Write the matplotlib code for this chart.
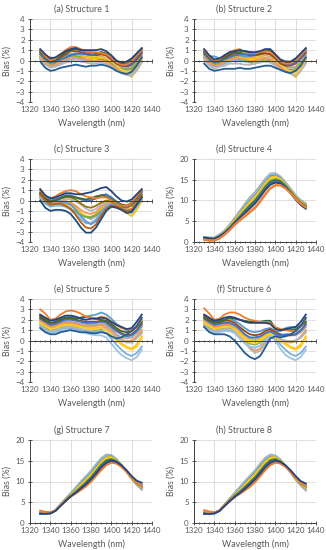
import matplotlib.pyplot as plt
from matplotlib.ticker import MultipleLocator

plt.rcParams['font.family'] = ['Lato', 'DejaVu Sans']

# x values shared by every series (nm)
wavelength = [1330, 1335, 1340, 1345, 1350, 1355, 1360, 1365, 1370, 1375,
              1380, 1385, 1390, 1395, 1400, 1405, 1410, 1415, 1420, 1425, 1430]

titles = ['(a) Structure 1', '(b) Structure 2', '(c) Structure 3',
          '(d) Structure 4', '(e) Structure 5', '(f) Structure 6',
          '(g) Structure 7', '(h) Structure 8']

# Structure 1
bias1 = [
    [0.6, 0.0, -0.3, -0.2, 0.1, 0.4, 0.6, 0.6, 0.5, 0.4, 0.3, 0.3, 0.4, 0.3, 0.0, -0.4, -0.7, -0.8, -0.6, -0.1, 0.5],
    [0.5, 0.0, -0.4, -0.3, 0.0, 0.3, 0.5, 0.5, 0.4, 0.3, 0.2, 0.2, 0.2, 0.1, -0.2, -0.7, -1.0, -1.2, -1.6, -0.9, 0.0],
    [0.4, -0.1, -0.4, -0.3, 0.0, 0.2, 0.4, 0.4, 0.3, 0.1, 0.0, 0.0, 0.1, 0.0, -0.3, -0.6, -0.8, -0.9, -0.8, -0.3, 0.3],
    [0.2, -0.3, -0.6, -0.5, -0.3, 0.0, 0.1, 0.2, 0.1, 0.0, -0.1, -0.1, 0.0, -0.1, -0.4, -0.8, -1.1, -1.3, -1.3, -0.7, -0.1],
    [0.3, -0.2, -0.5, -0.4, -0.1, 0.1, 0.3, 0.3, 0.2, 0.1, 0.0, -0.1, 0.0, -0.1, -0.4, -0.8, -1.0, -1.1, -1.0, -0.5, 0.2],
    [0.1, -0.4, -0.7, -0.6, -0.4, -0.2, -0.1, 0.0, -0.1, -0.2, -0.3, -0.3, -0.2, -0.3, -0.6, -0.9, -1.2, -1.4, -1.5, -1.0, -0.2],
    [0.5, 0.1, -0.2, -0.1, 0.2, 0.4, 0.6, 0.7, 0.6, 0.5, 0.4, 0.4, 0.5, 0.4, 0.0, -0.5, -0.9, -1.1, -1.2, -0.6, 0.2],
    [0.7, 0.3, 0.3, 0.2, 0.3, 0.5, 0.6, 0.7, 0.6, 0.6, 0.5, 0.6, 0.7, 0.5, 0.1, -0.3, -0.5, -0.5, -0.3, 0.2, 0.8],
    [0.8, 0.2, -0.2, -0.1, 0.3, 0.6, 0.9, 0.9, 0.8, 0.7, 0.6, 0.5, 0.6, 0.5, 0.1, -0.3, -0.5, -0.6, -0.4, 0.1, 0.7],
    [0.6, 0.1, -0.2, -0.1, 0.1, 0.3, 0.5, 0.6, 0.7, 0.6, 0.5, 0.6, 0.8, 0.6, 0.2, -0.2, -0.4, -0.5, -0.3, 0.3, 0.9],
    [0.9, 0.3, -0.1, 0.0, 0.4, 0.8, 1.0, 1.1, 1.0, 0.9, 0.8, 0.7, 0.8, 0.7, 0.3, -0.1, -0.3, -0.3, 0.0, 0.6, 1.1],
    [1.0, 0.4, 0.0, 0.2, 0.6, 1.0, 1.3, 1.3, 1.1, 0.9, 0.8, 0.8, 0.7, 0.6, 0.3, -0.2, -0.4, -0.4, -0.1, 0.5, 1.0],
    [-0.1, -0.7, -1.0, -0.9, -0.7, -0.6, -0.5, -0.4, -0.5, -0.6, -0.5, -0.5, -0.4, -0.5, -0.7, -1.0, -1.2, -1.3, -1.1, -0.5, 0.3],
    [1.1, 0.6, 0.2, 0.3, 0.6, 0.9, 1.1, 1.2, 1.0, 1.0, 1.0, 1.0, 1.1, 0.9, 0.5, 0.0, -0.2, -0.1, 0.2, 0.7, 1.2],
]
colors1 = ['#A5A5A5', '#FFC000', '#70AD47', '#7CAFDD', '#F1975A', '#B7B7B7', '#FFCD33',
           '#5B9BD5', '#9E480E', '#4472C4', '#43682B', '#ED7D31', '#255E91', '#264478']

# Structure 2
bias2 = [
    [0.6, 0.0, -0.3, -0.2, 0.1, 0.3, 0.4, 0.4, 0.3, 0.3, 0.3, 0.4, 0.5, 0.4, 0.0, -0.4, -0.6, -0.7, -0.6, -0.1, 0.5],
    [0.5, -0.1, -0.4, -0.3, 0.0, 0.2, 0.3, 0.3, 0.2, 0.2, 0.2, 0.3, 0.3, 0.2, -0.2, -0.7, -1.0, -1.2, -1.6, -1.0, 0.0],
    [0.4, -0.1, -0.4, -0.3, -0.1, 0.1, 0.2, 0.1, 0.0, -0.2, -0.3, -0.1, 0.0, 0.0, -0.3, -0.6, -0.8, -0.9, -0.8, -0.3, 0.3],
    [0.2, -0.3, -0.6, -0.5, -0.3, -0.1, 0.0, 0.0, -0.1, -0.1, 0.0, 0.1, 0.2, 0.1, -0.3, -0.7, -1.0, -1.2, -1.3, -0.7, -0.1],
    [0.3, -0.2, -0.5, -0.4, -0.1, 0.1, 0.2, 0.2, 0.1, 0.0, 0.0, 0.1, 0.2, 0.1, -0.3, -0.7, -0.9, -1.0, -0.9, -0.4, 0.2],
    [0.0, -0.5, -0.8, -0.6, -0.5, -0.3, -0.3, -0.3, -0.4, -0.4, -0.3, -0.2, -0.1, -0.2, -0.5, -0.9, -1.1, -1.3, -1.5, -1.0, -0.3],
    [0.5, 0.1, -0.2, -0.1, 0.1, 0.3, 0.5, 0.5, 0.4, 0.4, 0.4, 0.5, 0.6, 0.5, 0.1, -0.4, -0.8, -1.1, -1.3, -0.7, 0.1],
    [0.7, 0.4, 0.4, 0.2, 0.2, 0.4, 0.5, 0.5, 0.4, 0.4, 0.5, 0.6, 0.7, 0.6, 0.2, -0.2, -0.4, -0.4, -0.2, 0.3, 0.8],
    [0.8, 0.2, -0.2, -0.1, 0.2, 0.5, 0.7, 0.7, 0.6, 0.5, 0.5, 0.6, 0.7, 0.6, 0.2, -0.3, -0.5, -0.5, -0.3, 0.2, 0.7],
    [0.6, 0.1, -0.2, -0.1, 0.1, 0.3, 0.5, 0.6, 0.6, 0.6, 0.6, 0.8, 1.0, 0.9, 0.4, -0.1, -0.3, -0.4, -0.2, 0.3, 0.9],
    [0.9, 0.3, -0.1, 0.0, 0.3, 0.6, 0.8, 0.8, 0.9, 0.8, 0.7, 0.7, 0.9, 1.0, 0.5, 0.0, -0.2, -0.2, 0.1, 0.6, 1.1],
    [1.0, 0.4, 0.0, 0.1, 0.5, 0.8, 1.0, 1.1, 0.8, 0.7, 0.7, 0.8, 0.9, 0.8, 0.4, -0.1, -0.3, -0.3, 0.0, 0.5, 1.0],
    [-0.3, -0.8, -1.0, -0.9, -0.8, -0.8, -0.8, -0.7, -0.8, -0.8, -0.7, -0.6, -0.5, -0.5, -0.7, -0.9, -1.1, -1.2, -1.0, -0.5, 0.3],
    [1.1, 0.5, 0.1, 0.2, 0.5, 0.8, 0.9, 1.0, 0.9, 0.8, 0.8, 0.9, 1.1, 1.1, 0.6, 0.1, -0.1, -0.1, 0.2, 0.7, 1.2],
]
colors2 = colors1

# Structure 3
bias3 = [
    [0.7, 0.1, -0.2, -0.1, 0.0, -0.1, -0.3, -0.7, -1.2, -1.6, -1.8, -1.5, -1.0, -0.4, -0.2, -0.4, -0.7, -0.9, -0.8, -0.2, 0.5],
    [0.4, -0.1, -0.4, -0.3, -0.2, -0.3, -0.5, -0.8, -1.2, -1.5, -1.6, -1.3, -0.8, -0.4, -0.3, -0.6, -0.9, -1.2, -1.5, -0.9, 0.0],
    [0.3, -0.2, -0.5, -0.4, -0.3, -0.5, -0.8, -1.1, -1.4, -1.6, -1.6, -1.4, -1.0, -0.6, -0.4, -0.6, -0.8, -1.0, -0.9, -0.4, 0.3],
    [0.2, -0.3, -0.6, -0.5, -0.5, -0.6, -0.9, -1.3, -1.8, -2.2, -2.2, -1.8, -1.1, -0.5, -0.3, -0.5, -0.8, -1.1, -1.2, -0.6, 0.1],
    [0.5, 0.0, -0.3, -0.2, -0.1, -0.1, -0.2, -0.5, -0.9, -1.2, -1.3, -1.1, -0.6, -0.2, -0.2, -0.4, -0.7, -0.9, -0.8, -0.3, 0.4],
    [0.4, 0.0, -0.3, -0.2, 0.0, 0.1, 0.1, -0.1, -0.4, -0.8, -1.0, -0.8, -0.4, -0.1, -0.1, -0.4, -0.7, -0.9, -0.9, -0.4, 0.3],
    [0.6, 0.1, -0.2, 0.0, 0.2, 0.3, 0.3, 0.1, -0.3, -0.6, -0.7, -0.5, -0.2, 0.0, -0.1, -0.4, -0.6, -0.7, -0.5, 0.0, 0.6],
    [0.5, 0.3, 0.3, 0.1, -0.1, -0.2, -0.4, -0.9, -1.5, -2.0, -2.3, -2.0, -1.3, -0.7, -0.4, -0.5, -0.8, -1.0, -1.0, -0.4, 0.3],
    [0.7, 0.2, 0.0, 0.1, 0.3, 0.5, 0.5, 0.3, 0.1, 0.0, 0.0, 0.2, 0.5, 0.6, 0.3, -0.1, -0.4, -0.5, -0.3, 0.2, 0.8],
    [0.8, 0.2, -0.1, 0.0, 0.2, 0.4, 0.4, 0.3, 0.2, 0.1, 0.2, 0.4, 0.5, 0.4, 0.1, -0.2, -0.4, -0.5, -0.2, 0.3, 0.9],
    [0.6, 0.0, -0.4, -0.3, -0.3, -0.5, -0.8, -1.4, -2.1, -2.6, -2.7, -2.3, -1.5, -0.8, -0.5, -0.6, -0.8, -1.0, -0.9, -0.3, 0.4],
    [1.0, 0.4, 0.2, 0.4, 0.7, 0.9, 1.0, 0.9, 0.6, 0.4, 0.3, 0.2, 0.3, 0.3, 0.0, -0.3, -0.5, -0.5, -0.2, 0.4, 1.0],
    [0.0, -0.7, -1.0, -0.9, -0.9, -1.0, -1.3, -1.9, -2.6, -3.1, -3.1, -2.6, -1.8, -1.0, -0.6, -0.7, -0.9, -1.2, -1.1, -0.4, 0.3],
    [1.1, 0.5, 0.2, 0.3, 0.5, 0.7, 0.7, 0.6, 0.6, 0.7, 0.8, 1.0, 1.2, 1.3, 0.9, 0.4, 0.0, -0.1, 0.1, 0.6, 1.1],
]
colors3 = ['#A5A5A5', '#FFC000', '#70AD47', '#7CAFDD', '#F1975A', '#B7B7B7', '#997300',
           '#5B9BD5', '#4472C4', '#43682B', '#C55A11', '#ED7D31', '#1F4E79', '#264478']

# Structure 4
bias4 = [
    [1.2, 1.1, 1.1, 1.8, 2.8, 4.2, 5.8, 7.5, 9.2, 10.8, 12.0, 13.6, 15.2, 16.5, 16.6, 15.8, 14.4, 12.9, 11.3, 10.1, 9.3],
    [1.1, 1.0, 1.0, 1.7, 2.7, 4.0, 5.6, 7.3, 8.9, 10.4, 11.6, 13.2, 14.9, 16.3, 16.4, 15.6, 14.2, 12.7, 11.1, 9.9, 9.1],
    [1.0, 0.9, 0.9, 1.6, 2.6, 3.9, 5.4, 7.0, 8.6, 10.0, 11.2, 12.8, 14.5, 15.9, 16.1, 15.4, 14.0, 12.5, 11.0, 9.8, 9.0],
    [1.0, 0.9, 0.8, 1.5, 2.5, 3.8, 5.3, 6.8, 8.3, 9.7, 10.9, 12.5, 14.2, 15.5, 15.8, 15.2, 13.9, 12.4, 10.9, 9.7, 8.9],
    [0.9, 0.8, 0.7, 1.4, 2.4, 3.7, 5.1, 6.6, 8.0, 9.4, 10.6, 12.2, 13.9, 15.2, 15.5, 15.0, 13.8, 12.3, 10.8, 9.6, 8.8],
    [0.9, 0.8, 0.7, 1.3, 2.3, 3.5, 4.9, 6.3, 7.7, 9.0, 10.2, 11.8, 13.5, 14.8, 15.2, 14.8, 13.7, 12.2, 10.7, 9.5, 8.7],
    [0.9, 0.7, 0.6, 1.2, 2.2, 3.4, 4.8, 6.1, 7.4, 8.7, 9.9, 11.4, 13.1, 14.4, 14.9, 14.6, 13.5, 12.1, 10.6, 9.4, 8.6],
    [1.0, 0.8, 0.7, 1.3, 2.2, 3.3, 4.6, 5.9, 7.1, 8.4, 9.6, 11.1, 12.8, 14.1, 14.6, 14.3, 13.3, 11.9, 10.5, 9.2, 8.4],
    [1.1, 0.9, 0.8, 1.4, 2.2, 3.2, 4.5, 5.7, 6.9, 8.1, 9.3, 10.8, 12.5, 13.8, 14.3, 14.1, 13.1, 11.7, 10.2, 8.9, 8.0],
    [0.6, 0.4, 0.4, 0.9, 1.8, 2.9, 4.2, 5.3, 6.4, 7.5, 8.5, 10.0, 11.7, 13.1, 13.8, 13.7, 12.9, 11.7, 10.4, 9.2, 8.4],
    [0.5, 0.3, 0.3, 0.8, 1.7, 2.8, 4.1, 5.1, 6.1, 7.1, 8.1, 9.6, 11.3, 12.8, 13.6, 13.6, 12.9, 11.8, 10.5, 9.3, 8.3],
]
colors4 = ['#A5A5A5', '#9DC3E6', '#5B9BD5', '#FFC000', '#FFCD33', '#70AD47',
           '#43682B', '#4472C4', '#264478', '#F1975A', '#ED7D31']

# Structure 5
bias5 = [
    [2.0, 1.7, 1.4, 1.5, 1.7, 1.8, 1.8, 1.7, 1.6, 1.6, 1.5, 1.5, 1.6, 1.5, 1.1, 0.6, 0.3, 0.2, 0.3, 0.7, 1.3],
    [1.8, 1.5, 1.2, 1.3, 1.5, 1.6, 1.6, 1.5, 1.4, 1.3, 1.2, 1.2, 1.3, 1.2, 0.8, 0.2, -0.3, -0.6, -0.8, -0.4, 0.4],
    [1.6, 1.2, 1.0, 1.1, 1.3, 1.4, 1.4, 1.3, 1.1, 1.0, 0.9, 1.0, 1.1, 1.0, 0.6, 0.2, 0.0, -0.1, 0.0, 0.3, 0.8],
    [1.4, 1.0, 0.8, 0.9, 1.1, 1.2, 1.2, 1.1, 1.0, 0.9, 0.8, 0.8, 0.9, 0.7, 0.2, -0.4, -0.9, -1.3, -1.5, -1.2, -0.6],
    [1.9, 1.6, 1.3, 1.4, 1.6, 1.7, 1.7, 1.6, 1.5, 1.4, 1.4, 1.4, 1.5, 1.3, 0.9, 0.4, 0.1, -0.1, 0.0, 0.4, 1.0],
    [1.5, 1.1, 0.9, 1.0, 1.2, 1.3, 1.3, 1.2, 1.1, 1.0, 1.0, 1.1, 1.2, 1.1, 0.7, 0.3, 0.0, -0.2, -0.2, 0.2, 0.7],
    [1.7, 1.4, 1.1, 1.2, 1.4, 1.5, 1.5, 1.4, 1.3, 1.2, 1.1, 1.1, 1.2, 1.0, 0.6, 0.0, -0.4, -0.7, -0.9, -0.6, 0.2],
    [2.3, 2.1, 2.0, 2.0, 2.1, 2.2, 2.3, 2.2, 2.2, 2.3, 2.4, 2.5, 2.7, 2.5, 2.1, 1.6, 1.3, 1.0, 1.0, 1.3, 1.8],
    [2.4, 2.0, 1.7, 1.7, 1.9, 2.1, 2.1, 2.0, 1.9, 1.8, 1.8, 1.8, 1.9, 1.8, 1.4, 1.0, 0.7, 0.5, 0.6, 1.0, 1.6],
    [2.1, 1.8, 1.5, 1.6, 1.8, 2.0, 2.0, 1.9, 1.8, 1.7, 1.7, 1.7, 1.8, 1.7, 1.3, 0.9, 0.6, 0.4, 0.5, 0.9, 1.5],
    [2.2, 1.9, 1.7, 1.8, 2.0, 2.2, 2.2, 2.1, 2.2, 2.3, 2.2, 2.1, 2.0, 1.9, 1.6, 1.2, 0.9, 0.8, 0.9, 1.3, 1.8],
    [1.3, 0.9, 0.7, 0.8, 0.9, 1.0, 1.0, 0.9, 0.8, 0.7, 0.6, 0.5, 0.5, 0.3, -0.3, -0.9, -1.4, -1.7, -1.9, -1.6, -0.9],
    [3.0, 2.6, 2.0, 2.1, 2.5, 2.8, 2.9, 2.8, 2.6, 2.3, 2.2, 2.1, 2.3, 2.2, 1.8, 1.5, 1.2, 1.1, 1.0, 1.4, 2.0],
    [1.2, 0.8, 0.6, 0.6, 0.8, 0.9, 1.0, 0.9, 0.8, 0.8, 0.7, 0.7, 0.8, 0.7, 0.4, 0.2, 0.3, 0.6, 0.9, 1.4, 2.2],
    [2.5, 2.2, 1.9, 2.0, 2.2, 2.4, 2.4, 2.3, 2.1, 2.0, 2.1, 2.1, 2.2, 2.1, 1.8, 1.5, 1.3, 1.1, 1.2, 1.8, 2.5],
]
colors5 = ['#A5A5A5', '#FFC000', '#70AD47', '#7CAFDD', '#F1975A', '#B7B7B7', '#FFCD33',
           '#5B9BD5', '#9E480E', '#4472C4', '#43682B', '#9DC3E6', '#ED7D31', '#255E91', '#264478']

# Structure 6
bias6 = [
    [2.0, 1.7, 1.4, 1.5, 1.6, 1.6, 1.4, 1.0, 0.5, 0.2, 0.1, 0.3, 0.6, 0.8, 0.5, 0.4, 0.5, 0.5, 0.5, 0.8, 1.3],
    [1.8, 1.5, 1.2, 1.3, 1.4, 1.4, 1.2, 0.8, 0.3, 0.0, -0.1, 0.1, 0.5, 0.7, 0.4, 0.1, -0.3, -0.6, -0.8, -0.4, 0.4],
    [1.6, 1.2, 1.0, 1.1, 1.2, 1.2, 1.0, 0.5, 0.0, -0.3, -0.4, -0.2, 0.2, 0.5, 0.3, 0.1, -0.1, -0.1, 0.0, 0.3, 0.8],
    [1.4, 1.0, 0.8, 0.9, 1.0, 1.0, 0.8, 0.3, -0.2, -0.6, -0.7, -0.5, 0.0, 0.4, 0.2, -0.4, -0.9, -1.3, -1.5, -1.2, -0.6],
    [1.9, 1.6, 1.3, 1.4, 1.5, 1.5, 1.2, 0.6, -0.1, -0.7, -1.0, -0.8, -0.2, 0.4, 0.3, 0.1, -0.1, -0.2, -0.1, 0.4, 1.0],
    [1.5, 1.1, 0.9, 1.0, 1.1, 1.1, 0.9, 0.4, -0.2, -0.8, -1.2, -1.0, -0.4, 0.3, 0.3, 0.1, 0.0, -0.1, 0.0, 0.3, 0.8],
    [1.7, 1.4, 1.1, 1.2, 1.3, 1.3, 1.1, 0.6, 0.1, -0.2, -0.3, -0.1, 0.3, 0.6, 0.3, -0.1, -0.4, -0.7, -0.9, -0.6, 0.2],
    [2.3, 2.0, 1.8, 1.9, 2.0, 2.1, 1.9, 1.6, 1.2, 0.9, 0.8, 0.9, 1.1, 1.2, 0.9, 0.9, 1.2, 1.3, 1.3, 1.5, 1.8],
    [2.4, 2.0, 1.7, 1.7, 1.9, 1.9, 1.7, 1.3, 0.9, 0.6, 0.5, 0.6, 0.9, 1.1, 0.8, 0.6, 0.5, 0.5, 0.6, 1.0, 1.6],
    [2.1, 1.8, 1.5, 1.6, 1.7, 1.7, 1.5, 1.1, 0.6, 0.3, 0.3, 0.4, 0.7, 0.9, 0.6, 0.5, 0.6, 0.6, 0.6, 1.0, 1.5],
    [2.2, 1.9, 1.7, 1.8, 2.0, 2.2, 2.1, 2.0, 1.9, 1.8, 1.8, 1.8, 1.9, 1.9, 1.2, 1.0, 1.0, 1.0, 1.1, 1.4, 1.8],
    [1.3, 0.9, 0.7, 0.8, 0.9, 0.9, 0.7, 0.2, -0.3, -0.6, -0.7, -0.5, 0.0, 0.4, 0.0, -0.8, -1.4, -1.7, -1.9, -1.6, -0.9],
    [3.1, 2.6, 2.0, 2.1, 2.5, 2.7, 2.7, 2.5, 2.2, 2.0, 1.9, 1.8, 1.8, 1.7, 1.3, 1.1, 1.0, 0.9, 0.9, 1.4, 2.1],
    [1.3, 0.8, 0.6, 0.6, 0.6, 0.4, 0.0, -0.6, -1.2, -1.6, -1.8, -1.5, -0.7, 0.2, 0.4, 0.3, 0.4, 0.6, 0.9, 1.4, 2.2],
    [2.5, 2.2, 1.9, 2.0, 2.2, 2.3, 2.2, 2.0, 1.8, 1.7, 1.7, 1.7, 1.7, 1.6, 1.1, 1.0, 1.1, 1.2, 1.3, 1.8, 2.5],
]
colors6 = colors5

# Structure 7
bias7 = [
    [2.3, 2.4, 2.4, 3.1, 4.6, 5.9, 7.2, 8.6, 10.0, 11.3, 12.6, 14.2, 15.6, 16.5, 16.4, 15.4, 13.9, 12.3, 10.6, 9.2, 8.0],
    [2.3, 2.4, 2.4, 3.1, 4.5, 5.8, 7.0, 8.4, 9.8, 11.1, 12.3, 13.9, 15.3, 16.3, 16.3, 15.4, 13.9, 12.3, 10.6, 9.2, 8.1],
    [2.2, 2.3, 2.3, 3.0, 4.4, 5.7, 6.9, 8.2, 9.6, 10.8, 12.0, 13.6, 15.0, 16.0, 16.1, 15.3, 13.9, 12.4, 10.7, 9.3, 8.3],
    [2.4, 2.5, 2.4, 3.0, 4.4, 5.6, 6.8, 8.0, 9.3, 10.5, 11.7, 13.2, 14.7, 15.8, 15.9, 15.2, 13.9, 12.4, 10.7, 9.4, 8.5],
    [2.5, 2.5, 2.5, 3.0, 4.3, 5.5, 6.7, 7.8, 9.0, 10.2, 11.4, 12.9, 14.4, 15.5, 15.7, 15.1, 13.9, 12.4, 10.8, 9.4, 8.6],
    [2.6, 2.6, 2.5, 3.0, 4.3, 5.4, 6.6, 7.6, 8.7, 9.9, 11.1, 12.6, 14.1, 15.2, 15.5, 15.0, 13.9, 12.5, 10.9, 9.5, 8.7],
    [2.4, 2.4, 2.4, 3.0, 4.2, 5.4, 6.5, 7.5, 8.6, 9.7, 10.9, 12.4, 13.9, 15.0, 15.3, 14.9, 13.9, 12.5, 11.0, 9.6, 8.9],
    [2.3, 2.3, 2.3, 2.9, 4.2, 5.3, 6.5, 7.4, 8.4, 9.5, 10.7, 12.1, 13.6, 14.7, 15.1, 14.8, 13.9, 12.6, 11.1, 9.8, 9.2],
    [2.8, 2.6, 2.5, 3.0, 4.2, 5.3, 6.4, 7.3, 8.2, 9.1, 10.2, 11.6, 13.0, 14.2, 14.6, 14.4, 13.6, 12.4, 11.0, 9.8, 9.0],
    [3.0, 2.7, 2.6, 3.0, 4.2, 5.3, 6.3, 7.1, 7.9, 8.8, 9.9, 11.3, 12.7, 13.9, 14.5, 14.3, 13.5, 12.3, 10.9, 9.7, 8.8],
    [2.2, 2.2, 2.3, 2.9, 4.1, 5.3, 6.4, 7.3, 8.3, 9.3, 10.5, 11.9, 13.4, 14.5, 15.0, 14.7, 13.9, 12.7, 11.3, 10.2, 9.7],
]
colors7 = ['#A5A5A5', '#9DC3E6', '#5B9BD5', '#FFC000', '#FFCD33', '#70AD47',
           '#43682B', '#4472C4', '#F1975A', '#ED7D31', '#264478']

# Structure 8
bias8 = [
    [2.3, 2.4, 2.4, 3.0, 4.5, 5.9, 7.3, 8.7, 10.1, 11.4, 12.7, 14.3, 15.7, 16.5, 16.3, 15.3, 13.8, 12.1, 10.4, 9.0, 7.8],
    [2.3, 2.4, 2.4, 3.0, 4.4, 5.8, 7.1, 8.5, 9.9, 11.2, 12.4, 14.0, 15.4, 16.3, 16.2, 15.3, 13.8, 12.2, 10.5, 9.1, 7.9],
    [2.2, 2.3, 2.3, 3.0, 4.4, 5.7, 6.9, 8.2, 9.6, 10.9, 12.1, 13.7, 15.1, 16.0, 16.0, 15.2, 13.8, 12.3, 10.6, 9.2, 8.2],
    [2.4, 2.5, 2.4, 3.0, 4.3, 5.6, 6.8, 8.0, 9.3, 10.6, 11.8, 13.3, 14.8, 15.8, 15.9, 15.1, 13.8, 12.3, 10.7, 9.3, 8.4],
    [2.5, 2.5, 2.5, 3.0, 4.3, 5.5, 6.7, 7.8, 9.0, 10.2, 11.4, 12.9, 14.4, 15.5, 15.7, 15.0, 13.8, 12.4, 10.8, 9.4, 8.6],
    [2.6, 2.6, 2.5, 3.0, 4.2, 5.4, 6.6, 7.6, 8.7, 9.9, 11.1, 12.6, 14.1, 15.2, 15.5, 14.9, 13.8, 12.4, 10.9, 9.5, 8.7],
    [2.4, 2.4, 2.4, 2.9, 4.2, 5.4, 6.5, 7.5, 8.6, 9.7, 10.9, 12.4, 13.9, 15.0, 15.3, 14.8, 13.8, 12.5, 11.0, 9.6, 8.9],
    [2.3, 2.3, 2.3, 2.9, 4.1, 5.3, 6.4, 7.4, 8.4, 9.5, 10.7, 12.1, 13.6, 14.7, 15.1, 14.7, 13.8, 12.6, 11.1, 9.8, 9.1],
    [2.8, 2.6, 2.5, 3.0, 4.2, 5.3, 6.3, 7.2, 8.1, 9.1, 10.2, 11.6, 13.0, 14.2, 14.7, 14.4, 13.6, 12.4, 11.0, 9.7, 8.9],
    [3.1, 2.8, 2.6, 3.0, 4.1, 5.2, 6.2, 7.0, 7.8, 8.7, 9.8, 11.2, 12.7, 13.9, 14.5, 14.3, 13.5, 12.3, 10.9, 9.6, 8.8],
    [2.2, 2.2, 2.3, 2.9, 4.1, 5.2, 6.3, 7.2, 8.2, 9.3, 10.5, 11.9, 13.4, 14.5, 15.0, 14.7, 13.9, 12.7, 11.3, 10.1, 9.5],
]
colors8 = colors7

panels = [
    (bias1, colors1, (-4, 4), 1),
    (bias2, colors2, (-4, 4), 1),
    (bias3, colors3, (-4, 4), 1),
    (bias4, colors4, (0, 20), 5),
    (bias5, colors5, (-4, 4), 1),
    (bias6, colors6, (-4, 4), 1),
    (bias7, colors7, (0, 20), 5),
    (bias8, colors8, (0, 20), 5),
]

W, H = 326, 550
fig = plt.figure(figsize=(W / 100, H / 100), dpi=100)

col_left = [30, 194]
row_top = [19, 159, 299, 440]
ax_w, ax_h = 122, 83
text_col = '#595959'
axis_col = '#404040'
grid_col = '#D9D9D9'

for i, (bias, cols, ylim, ystep) in enumerate(panels):
    r, c = divmod(i, 2)
    left = col_left[c]
    top = row_top[r]
    ax = fig.add_axes([left / W, 1 - (top + ax_h) / H, ax_w / W, ax_h / H])

    for series, col in zip(bias, cols):
        ax.plot(wavelength, series, color=col, lw=1.3, solid_joinstyle='round')

    ax.set_xlim(1320, 1440)
    ax.set_ylim(*ylim)
    ax.set_xticks(range(1320, 1441, 20))
    ax.xaxis.set_minor_locator(MultipleLocator(5))
    ax.set_yticks(range(ylim[0], ylim[1] + 1, ystep))
    ax.grid(True, which='major', color=grid_col, lw=0.6)
    ax.set_axisbelow(True)

    for side in ['top', 'right']:
        ax.spines[side].set_visible(False)
    ax.spines['bottom'].set_position(('data', 0))
    for side in ['bottom', 'left']:
        ax.spines[side].set_color(axis_col)
        ax.spines[side].set_linewidth(0.7)

    ax.tick_params(axis='x', which='major', direction='inout', length=3.5,
                   width=0.6, color=axis_col, labelbottom=False)
    ax.tick_params(axis='x', which='minor', direction='inout', length=2,
                   width=0.5, color=axis_col)
    ax.tick_params(axis='y', direction='inout', length=3.5, width=0.6,
                   color=axis_col, labelsize=5.8, labelcolor=text_col, pad=2)

    # labels for the x axis sit below the plot, not on the zero line
    sec = ax.secondary_xaxis('bottom')
    sec.set_xticks(range(1320, 1441, 20))
    sec.spines['bottom'].set_visible(False)
    sec.tick_params(length=0, labelsize=5.8, labelcolor=text_col, pad=3)

    ax.set_xlabel('Wavelength (nm)', fontsize=6.4, color=text_col)
    ax.xaxis.set_label_coords(0.5, -0.2)
    ax.set_ylabel('Bias (%)', fontsize=6.4, color=text_col)
    ax.yaxis.set_label_coords(-0.155, 0.5)

    fig.text((c * 163 + 81.5) / W, 1 - (top - 10) / H, titles[i],
             fontsize=6.4, color=text_col, ha='center', va='center')

fig.savefig('out.png', dpi=100)
